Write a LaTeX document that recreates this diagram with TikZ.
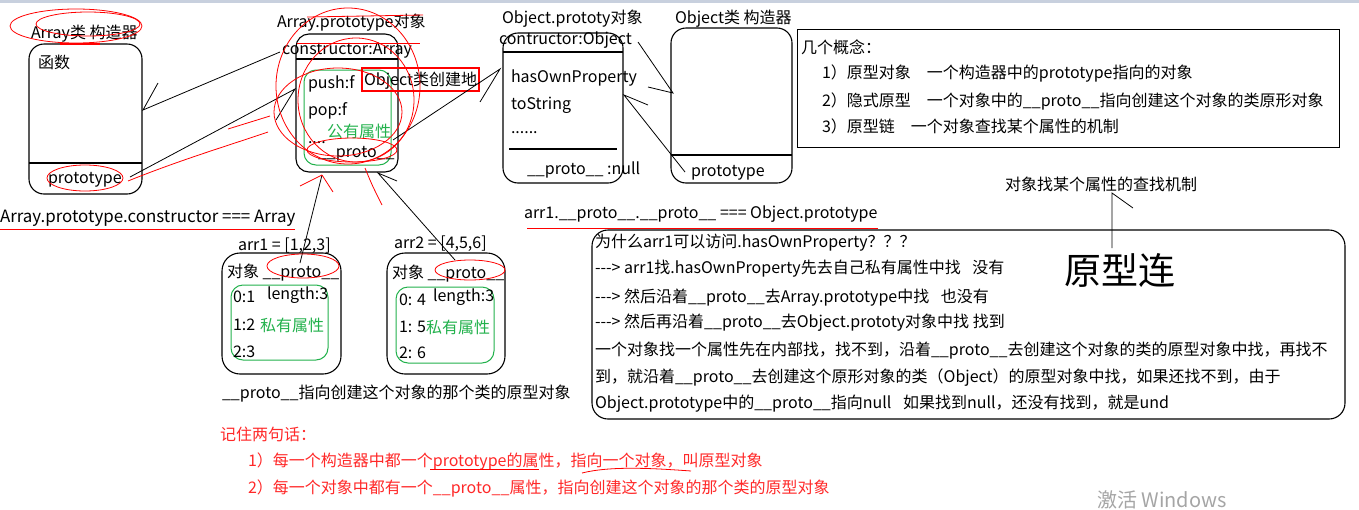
\documentclass[tikz,border=0pt]{standalone}
\usepackage{fontspec}
\setmainfont{Noto Sans CJK SC}
\usetikzlibrary{calc}
\definecolor{pen}{RGB}{255,0,0}
\definecolor{grn}{RGB}{34,177,76}
\definecolor{redtxt}{RGB}{255,40,40}
\definecolor{topbar}{RGB}{200,208,222}
\definecolor{wm}{RGB}{165,165,165}
\newcommand\fsz[1]{\fontsize{#1}{#1}\selectfont}
\newcommand\arw{-{}-{}-{}>}
\begin{document}
\begin{tikzpicture}[x=1pt,y=-1pt,
  every node/.style={inner sep=0pt, outer sep=0pt},
  t/.style={anchor=base west, font=\fsz{16}, yshift=-5.5pt},
  gt/.style={t, text=grn},
  rt/.style={t, text=redtxt},
  box/.style={draw, line width=1.1pt, rounded corners=15pt},
  gbox/.style={draw=grn, line width=1pt, rounded corners=12pt},
  sq/.style={draw, line width=1pt},
  conn/.style={draw, line width=0.8pt},
  pen/.style={draw=pen, line width=0.8pt},
  div/.style={draw, line width=1.1pt}]
\useasboundingbox (0,0) rectangle (1359,509);
\fill[topbar] (0,0) rectangle (1359,3);

% ---------- Array constructor ----------
\node[box, minimum width=113pt, minimum height=150pt, anchor=north west] (actor) at (29,44) {};
\coordinate (d1) at (0,163);
\draw[div] (actor.west |- d1) -- (actor.east |- d1);
\node[t] (tA) at (31,33) {Array类 构造器};
\node[t] (tF) at (38,63) {函数};
\node[t] (tP1) at (48,178) {prototype};

% ---------- Array.prototype ----------
\node[box, rounded corners=13pt, minimum width=102pt, minimum height=138pt, anchor=north west] (aproto) at (296,34) {};
\coordinate (d2) at (0,59);
\draw[div] (aproto.west |- d2) -- (aproto.east |- d2);
\node[gbox, minimum width=87pt, minimum height=95pt, anchor=north west] (apub) at (304,70) {};
\node[t] (tAP) at (277,22) {Array.prototype对象};
\node[t] (tAC) at (282,49) {constructor:Array};
\node[t] (tpush) at (308,83) {push:f};
\node[t] (tpop) at (308,110) {pop:f};
\node[gt] (tpub) at (327,132) {公有属性};
\node[t] (tdots) at (308,138) {....};
\node[t] (tpr) at (318,152) {\_\_proto\_\_};
\node[draw=pen, line width=1.2pt, minimum width=117pt, minimum height=23pt, anchor=north west] (rbox) at (362,68) {};
\node[t] (trb) at (364,80) {Object类创建地};

% ---------- Object.prototype ----------
\node[box, minimum width=120pt, minimum height=150pt, anchor=north west] (oproto) at (503,33) {};
\coordinate (d3) at (0,52);
\draw[div] (oproto.west |- d3) -- (oproto.east |- d3);
\coordinate (d4a) at (509,149);
\coordinate (d4b) at (617,149);
\draw[div] (d4a) -- (d4b);
\node[t] (tOP) at (502,18) {Object.prototy对象};
\node[t] (tOC) at (499,39) {contructor:Object};
\node[t] (thas) at (511,77) {hasOwnProperty};
\node[t] (tts) at (511,104) {toString};
\node[t] (tdd) at (511,128) {......};
\node[t] (tnull) at (527,169) {\_\_proto\_\_ :null};

% ---------- Object constructor ----------
\node[box, minimum width=121pt, minimum height=155pt, anchor=north west] (octor) at (671,28) {};
\coordinate (d5) at (0,155);
\draw[div] (octor.west |- d5) -- (octor.east |- d5);
\node[t] (tOT) at (675,18) {Object类 构造器};
\node[t] (tP2) at (691,171) {prototype};

% ---------- concepts ----------
\node[sq, minimum width=542pt, minimum height=118pt, anchor=north west] (cbox) at (797,29) {};
\node[t] (k0) at (801,48) {几个概念：};
\node[t] (k1) at (822,73) {1）原型对象　一个构造器中的prototype指向的对象};
\node[t] (k2) at (822,101) {2）隐式原型　一个对象中的\_\_proto\_\_指向创建这个对象的类原形对象};
\node[t] (k3) at (822,127) {3）原型链　一个对象查找某个属性的机制};

% ---------- equalities ----------
\node[t, font=\fsz{16.9}] (eq1) at (0,217) {Array.prototype.constructor === Array};
\node[t] (eq2) at (524,213) {arr1.\_\_proto\_\_.\_\_proto\_\_ === Object.prototype};

% ---------- arr1 ----------
\node[box, rounded corners=18pt, minimum width=119pt, minimum height=121pt, anchor=north west] (a1) at (222,253) {};
\node[gbox, minimum width=97pt, minimum height=75pt, anchor=north west] (a1g) at (231,285) {};
\node[t] (a1t) at (238,245) {arr1 = [1,2,3]};
\node[t] (a1o) at (227,272) {对象 \_\_proto\_\_};
\node[t] (a1a) at (233,297) {0:1};
\node[t] (a1l) at (267,294) {length:3};
\node[t] (a1b) at (233,325) {1:2};
\node[gt] (a1p) at (260,326) {私有属性};
\node[t] (a1c) at (233,352) {2:3};

% ---------- arr2 ----------
\node[box, rounded corners=18pt, minimum width=118pt, minimum height=121pt, anchor=north west] (a2) at (387,253) {};
\node[gbox, minimum width=98pt, minimum height=76pt, anchor=north west] (a2g) at (396,287) {};
\node[t] (a2t) at (394,243) {arr2 = [4,5,6]};
\node[t] (a2o) at (392,273) {对象 \_\_proto\_\_};
\node[t] (a2a) at (399,300) {0: 4};
\node[t] (a2l) at (433,296) {length:3};
\node[t] (a2b) at (399,327) {1: 5};
\node[gt] (a2p) at (426,328) {私有属性};
\node[t] (a2c) at (399,353) {2: 6};

\node[t] (pnote) at (222,393) {\_\_proto\_\_指向创建这个对象的那个类的原型对象};

% ---------- big box ----------
\node[box, rounded corners=16pt, minimum width=753pt, minimum height=189pt, anchor=north west] (big) at (592,230) {};
\node[t] (b1) at (595,242) {为什么arr1可以访问.hasOwnProperty？？？};
\node[t] (b2) at (595,268) {\arw{} arr1找.hasOwnProperty先去自己私有属性中找\hspace{0.5em} 没有};
\node[t] (b3) at (595,297) {\arw{} 然后沿着\_\_proto\_\_去Array.prototype中找\hspace{0.5em} 也没有};
\node[t] (b4) at (595,322) {\arw{} 然后再沿着\_\_proto\_\_去Object.prototy对象中找 找到};
\node[t] (b5) at (595,350) {一个对象找一个属性先在内部找，找不到，沿着\_\_proto\_\_去创建这个对象的类的原型对象中找，再找不};
\node[t] (b6) at (595,377) {到，就沿着\_\_proto\_\_去创建这个原形对象的类（Object）的原型对象中找，如果还找不到，由于};
\node[t] (b7) at (595,403) {Object.prototype中的\_\_proto\_\_指向null\hspace{0.5em} 如果找到null，还没有找到，就是und};

\node[font=\fsz{37}] (yxl) at (1120,270) {原型连};
\node[t] (cz) at (1005,185) {对象找某个属性的查找机制};

% ---------- red notes ----------
\node[rt] (r0) at (220,435) {记住两句话：};
\node[rt] (r1) at (248,461) {1）每一个构造器中都一个prototype的属性，指向一个对象，叫原型对象};
\node[rt] (r2) at (248,488) {2）每一个对象中都有一个\_\_proto\_\_属性，指向创建这个对象的那个类的原型对象};

\node[anchor=base west, font=\fsz{20}, text=wm] (wmk) at (1097,507) {激活 Windows};

% ---------- connectors ----------
\coordinate (c1a) at (280,52);  \coordinate (c1b) at (143,110);
\coordinate (c2a) at (130,177); \coordinate (c2b) at (295,89);
\coordinate (c3a) at (393,140); \coordinate (c3b) at (500,69);
\coordinate (c4a) at (638,42);  \coordinate (c4b) at (673,93);
\coordinate (c5a) at (685,172); \coordinate (c5b) at (624,95);
\coordinate (c6a) at (300,263); \coordinate (c6b) at (322,175);
\coordinate (c7a) at (455,260); \coordinate (c7b) at (378,173);
\coordinate (c8a) at (1112,248); \coordinate (c8b) at (1112,193);
\draw[conn] (c1a) -- (c1b) -- +(15,-27);
\draw[conn] (c2a) -- (c2b) -- +(-19,31);
\draw[conn] (c3a) -- (c3b) -- +(-20,33);
\draw[conn] (c4a) -- (c4b) -- +(-25,-6);
\draw[conn] (c5a) -- (c5b) -- +(24,10);
\draw[conn] (c6a) -- (c6b);
\draw[conn] (c7a) -- (c7b) -- +(19,8);
\draw[conn] (c8a) -- (c8b) -- +(21,15);

% ---------- red pen scribbles ----------
\draw[pen] (76,26) ellipse [x radius=66pt, y radius=17pt];
\draw[pen] (88,24) ellipse [x radius=52pt, y radius=12pt];
\draw[pen, line width=1.6pt] (60,44) -- (100,44);
\draw[pen] (85,178) ellipse [x radius=38pt, y radius=13pt];
\draw[pen] (128,181) .. controls (180,160) and (230,145) .. (268,132);
\draw[pen] (228,129) -- (270,116);
\draw[pen] (348,86) ellipse [x radius=72pt, y radius=78pt];
\draw[pen] (356,100) ellipse [x radius=58pt, y radius=62pt];
\draw[pen] (338,112) ellipse [x radius=64pt, y radius=44pt];
\draw[pen] (307,17) -- (423,15);
\draw[pen] (297,43) -- (420,43);
\draw[pen] (352,150) ellipse [x radius=45pt, y radius=12pt];
\draw[pen] (322,175) -- (300,186);
\draw[pen] (322,175) -- (333,192);
\draw[pen] (365,168) .. controls (372,185) .. (382,205);
\draw[pen] (303,266) ellipse [x radius=36pt, y radius=12pt];
\draw[pen] (470,270) ellipse [x radius=35pt, y radius=10pt];
\draw[pen] (0,229) -- (295,229);
\draw[pen] (527,228) -- (878,228);
\draw[pen] (430,469) -- (539,469);
\draw[pen] (582,473) .. controls (610,466) and (650,468) .. (691,471);
\end{tikzpicture}
\end{document}
